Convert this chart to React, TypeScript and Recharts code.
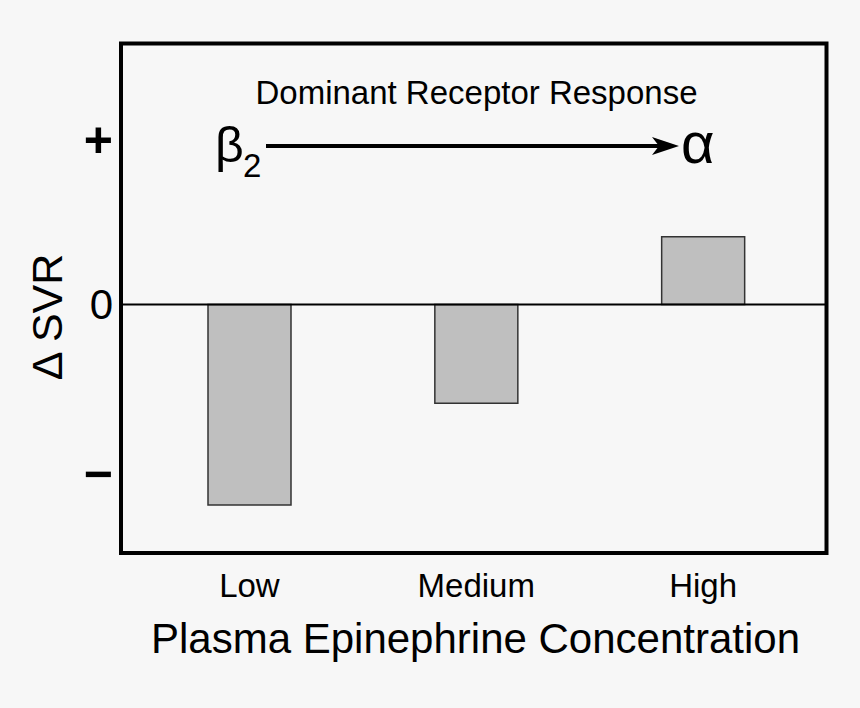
import React from 'react';
import { BarChart, Bar, XAxis, YAxis, ReferenceLine, Customized } from 'recharts';

const categories = ['Low', 'Medium', 'High'];
const svrChange = [-1.219, -0.6, 0.412];
const yTicks = [-1.036, 0, 1];
const yTickLabels = ['\u2212', '0', '+'];

const data = categories.map((c, i) => ({ category: c, value: svrChange[i] }));

const W = 860;
const H = 708;
const PLOT_LEFT = 121;
const PLOT_TOP = 43.5;
const PLOT_RIGHT = 826.5;
const PLOT_BOTTOM = 553;
const FONT = '"Liberation Sans", Arial, Helvetica, sans-serif';

const YTick = (props: any) => {
  const { x, y, payload } = props;
  const label = yTickLabels[yTicks.indexOf(payload.value)];
  const isSign = label !== '0';
  return (
    <text
      x={x}
      y={y}
      dy={isSign ? '0.33em' : '0.355em'}
      textAnchor="end"
      fontFamily={FONT}
      fontSize={isSign ? 50 : 42}
      fontWeight={isSign ? 600 : 'normal'}
      fill="#000"
    >
      {label}
    </text>
  );
};

const Annotations = () => (
  <g fontFamily={FONT} fill="#000">
    <rect
      x={PLOT_LEFT}
      y={PLOT_TOP}
      width={PLOT_RIGHT - PLOT_LEFT}
      height={PLOT_BOTTOM - PLOT_TOP}
      fill="none"
      stroke="#000"
      strokeWidth={4}
    />
    <text x={476.5} y={104} textAnchor="middle" fontSize={33}>
      Dominant Receptor Response
    </text>
    <text x={215} y={162} fontSize={50}>β</text>
    <text x={243} y={177} fontSize={33}>2</text>
    <line x1={266} y1={146} x2={662} y2={146} stroke="#000" strokeWidth={4} />
    <path d="M679,146 L652,137 L659,146 L652,155 Z" fill="#000" />
    <text x={681} y={163} fontSize={58}>α</text>
    <text x={47} y={317} textAnchor="middle" dominantBaseline="central" fontSize={43} transform="rotate(-90 47 317)">
      Δ SVR
    </text>
    <text x={475.5} y={653} textAnchor="middle" fontSize={42}>
      Plasma Epinephrine Concentration
    </text>
  </g>
);

export default function App() {
  return (
    <div style={{ position: 'absolute', left: 0, top: 0, width: W, height: H, background: '#f7f7f7', fontFamily: FONT }}>
      <BarChart
        width={W}
        height={H}
        data={data}
        margin={{ top: PLOT_TOP, right: W - PLOT_RIGHT, left: 0, bottom: 0 }}
      >
        <XAxis
          dataKey="category"
          axisLine={false}
          tickLine={false}
          height={H - PLOT_BOTTOM}
          interval={0}
          tickSize={6}
          tickMargin={15}
          padding={{ left: 15, right: 10 }}
          tick={{ fontSize: 33, fill: '#000', fontFamily: FONT }}
        />
        <YAxis
          type="number"
          domain={[-1.511, 1.587]}
          allowDataOverflow
          ticks={yTicks}
          width={PLOT_LEFT}
          axisLine={false}
          tickLine={false}
          tick={<YTick />}
        />
        <Bar
          dataKey="value"
          fill="#bfbfbf"
          stroke="#333"
          strokeWidth={1.5}
          barSize={83}
          isAnimationActive={false}
        />
        <ReferenceLine y={0} stroke="#000" strokeWidth={2} />
        <Customized component={Annotations} />
      </BarChart>
    </div>
  );
}
